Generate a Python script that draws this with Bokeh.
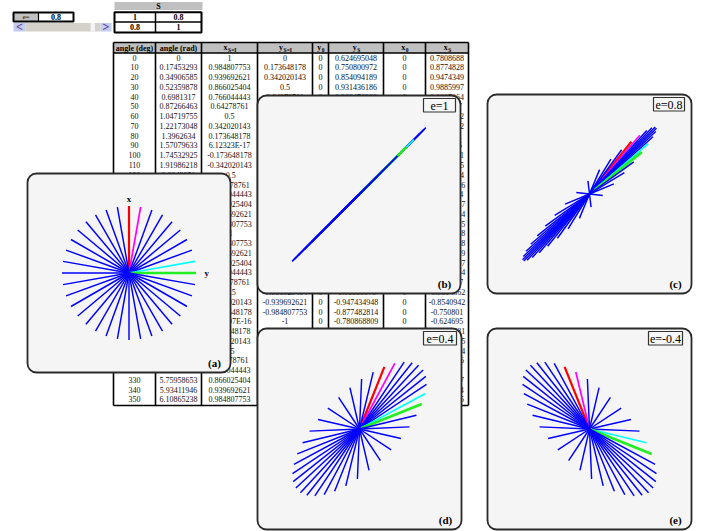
from bokeh.plotting import figure
from bokeh.models import Range1d, ColumnDataSource
from bokeh.embed import file_html
from bokeh.resources import INLINE
from bokeh.core.properties import value

# ---------------- data ----------------
angle_deg = [str(a) for a in range(0, 360, 10)]
angle_rad = ["0", "0.17453293", "0.34906585", "0.52359878", "0.6981317", "0.87266463",
             "1.04719755", "1.22173048", "1.3962634", "1.57079633", "1.74532925", "1.91986218",
             "2.0943951", "2.26892803", "2.44346095", "2.61799388", "2.7925268", "2.96705973",
             "3.14159265", "3.31612558", "3.4906585", "3.66519143", "3.83972435", "4.01425728",
             "4.1887902", "4.36332313", "4.53785606", "4.71238898", "4.88692191", "5.06145483",
             "5.23598776", "5.41052068", "5.58505361", "5.75958653", "5.93411946", "6.10865238"]
x_SI = ["1", "0.984807753", "0.939692621", "0.866025404", "0.766044443", "0.64278761",
        "0.5", "0.342020143", "0.173648178", "6.12323E-17", "-0.173648178", "-0.342020143",
        "-0.5", "-0.64278761", "-0.766044443", "-0.866025404", "-0.939692621", "-0.984807753",
        "-1", "-0.984807753", "-0.939692621", "-0.866025404", "-0.766044443", "-0.64278761",
        "-0.5", "-0.342020143", "-0.173648178", "-1.83697E-16", "0.173648178", "0.342020143",
        "0.5", "0.64278761", "0.766044443", "0.866025404", "0.939692621", "0.984807753"]
y_SI = ["0", "0.173648178", "0.342020143", "0.5", "0.64278761", "0.766044443",
        "0.866025404", "0.939692621", "0.984807753", "1", "0.984807753", "0.939692621",
        "0.866025404", "0.766044443", "0.64278761", "0.5", "0.342020143", "0.173648178",
        "1.22515E-16", "-0.173648178", "-0.342020143", "-0.5", "-0.64278761", "-0.766044443",
        "-0.866025404", "-0.939692621", "-0.984807753", "-1", "-0.984807753", "-0.939692621",
        "-0.866025404", "-0.766044443", "-0.64278761", "-0.5", "-0.342020143", "-0.173648178"]
y_0 = ["0"] * 36
x_0 = ["0"] * 36
y_S = ["0.624695048", "0.750800972", "0.854094189", "0.931436186", "0.980476966", "0.999726447",
       "0.98859975", "0.947434948", "0.877482814", "0.780868809", "0.660528499", "0.520118368",
       "0.363904702", "0.196633976", "0.023388626", "-0.150567376", "-0.319948466", "-0.479608081",
       "-0.624695048", "-0.750800972", "-0.854094189", "-0.931436186", "-0.980476966", "-0.999726447",
       "-0.98859975", "-0.947434948", "-0.877482814", "-0.780868809", "-0.660528499", "-0.520118368",
       "-0.363904702", "-0.196633976", "-0.023388626", "0.150567376", "0.319948466", "0.479608081"]
x_S = ["0.7808688", "0.8774828", "0.9474349", "0.9885997", "0.9997264", "0.980477",
       "0.9314362", "0.8540942", "0.750801", "0.624695", "0.4796081", "0.3199485",
       "0.1505674", "-0.0233886", "-0.196634", "-0.3639047", "-0.5201184", "-0.6605285",
       "-0.7808688", "-0.8774828", "-0.9474349", "-0.9885997", "-0.9997264", "-0.980477",
       "-0.9314362", "-0.8540942", "-0.750801", "-0.624695", "-0.4796081", "-0.3199485",
       "-0.1505674", "0.0233886", "0.196634", "0.3639047", "0.5201184", "0.6605285"]

e_value = "0.8"
S_matrix = [["1", "0.8"], ["0.8", "1"]]
panel_e = {"a": 0.0, "b": 1.0, "c": 0.8, "d": 0.4, "e": -0.4}
panel_label = {"b": "e=1", "c": "e=0.8", "d": "e=0.4", "e": "e=-0.4"}
highlight = {"0": "#ff0000", "10": "#ff00ff", "80": "#00ffff", "90": "#22ee22"}
highlight_w = {"0": 2.2, "10": 1.7, "80": 1.7, "90": 2.7}

# ---------------- figure ----------------
W, H = 707, 531
p = figure(frame_width=W, frame_height=H, x_range=Range1d(0, W), y_range=Range1d(H, 0),
           output_backend="svg", toolbar_location=None, min_border=0,
           x_axis_location=None, y_axis_location=None, title=None)
p.grid.visible = False
p.outline_line_color = None
p.background_fill_color = "white"
p.border_fill_color = "white"

SERIF = value("Liberation Serif")


def tx(xs, ys, texts, size="8px", bold=False, align="center", color="black",
       baseline="middle", rng=None):
    kw = {}
    if rng:
        kw = dict(x_range_name=rng[0], y_range_name=rng[1])
    src = ColumnDataSource(dict(x=xs, y=ys, text=texts))
    p.text(x="x", y="y", text="text", source=src, text_font=SERIF, text_font_size=size,
           text_font_style="bold" if bold else "normal", text_align=align,
           text_baseline=baseline, text_color=color, **kw)


def box(l, r, t, b, fill, line="black", lw=1.5, radius=0):
    kw = {}
    if radius:
        kw["border_radius"] = radius
    p.quad(left=[l], right=[r], top=[t], bottom=[b], fill_color=fill,
           line_color=line if lw else None, line_width=lw, **kw)


# ---------- top left controls ----------
box(13, 38, 12, 21, "#c0c0c0", lw=0)
box(13, 73, 12, 21, None, lw=2)
p.segment(x0=[38], y0=[12], x1=[38], y1=[21], line_color="black", line_width=1.2)
tx([25.5], [16.7], ["e="], size="7px")
tx([55.5], [16.7], [e_value], size="8px", bold=True)
# scrollbar
box(13, 25, 22.5, 31, "#c3cbee", lw=0)
box(25, 100, 22.5, 31, "#d4d1cb", lw=0)
box(90, 94.5, 22.5, 31, "#f4f4f4", lw=0)
box(100, 111, 22.5, 31, "#c3cbee", lw=0)
tx([19], [26.8], ["<"], size="12px", bold=True, color="#55308a")
tx([105.5], [26.8], [">"], size="12px", bold=True, color="#55308a")

# ---------- S matrix ----------
box(114, 202, 1.5, 9.5, "#c0c0c0", lw=0)
tx([158], [5.7], ["S"], size="8px", bold=True)
box(114, 201, 11.7, 32, None, lw=2)
p.segment(x0=[155, 114], y0=[11.7, 21.5], x1=[155, 201], y1=[32, 21.5],
          line_color="black", line_width=1.5)
tx([134.5, 178, 134.5, 178], [16.8, 16.8, 26.9, 26.9],
   [S_matrix[0][0], S_matrix[0][1], S_matrix[1][0], S_matrix[1][1]], size="8px", bold=True)

# ---------- data table ----------
col_edges = [113, 155, 201, 257, 312, 328, 383, 425, 468]
col_c = [(col_edges[i] + col_edges[i + 1]) / 2 for i in range(8)]
row_y = [57 + i * 9.77 for i in range(36)]
box(113, 468, 42, 52.5, "#c0c0c0", lw=0)
columns = [angle_deg, angle_rad, x_SI, y_SI, y_0, y_S, x_0, x_S]
for j, col in enumerate(columns):
    tx([col_c[j]] * 36, row_y, col, size="8px", color="#111111")
heads = [("angle (deg)", ""), ("angle (rad)", ""), ("x", "S=I"), ("y", "S=I"),
         ("y", "0"), ("y", "S"), ("x", "0"), ("x", "S")]
for j, (main, sub) in enumerate(heads):
    if sub:
        sw = 2.6 * len(sub)
        tx([col_c[j] - sw / 2], [47.2], [main], size="8px", bold=True)
        tx([col_c[j] - sw / 2 + 2.5], [49.3], [sub], size="5.5px", bold=True, align="left")
    else:
        tx([col_c[j]], [47.5], [main], size="8px", bold=True)
p.segment(x0=col_edges, y0=[42] * 9, x1=col_edges, y1=[405] * 9, line_color="black", line_width=1.6)
p.segment(x0=[113] * 3, y0=[42, 52.5, 405], x1=[468] * 3, y1=[42, 52.5, 405],
          line_color="black", line_width=1.6)

# ---------- chart panels ----------
K = 67.0  # px per unit
panels = {"a": (27, 230, 173, 372), "b": (257, 460, 95, 293), "c": (487, 691, 94, 293),
          "d": (257, 461, 328, 529), "e": (487, 691, 328, 529)}
label_box = {"b": (423, 455), "c": (653, 684), "d": (423, 456), "e": (648, 682)}

base_x = [float(v) for v in x_SI]
base_y = [float(v) for v in y_SI]
colors = [highlight.get(a, "#0000ff") for a in angle_deg]
widths = [highlight_w.get(a, 1.45) for a in angle_deg]

for name, (l, r, t, b) in panels.items():
    cx, cy = (l + r) / 2, (t + b) / 2
    hn, vn = "h_" + name, "v_" + name
    p.extra_x_ranges[hn] = Range1d((0 - cx) / K, (W - cx) / K)
    p.extra_y_ranges[vn] = Range1d((cy - H) / K, (cy - 0) / K)
    box(l, r, t, b, "#f5f5f5", line="#2a2a2a", lw=1.8, radius=9)

    e = panel_e[name]
    if name == "c":
        xs = [float(v) for v in x_S]
        ys = [float(v) for v in y_S]
    else:
        n = (1 + e * e) ** 0.5
        xs = [(bx + e * by) / n for bx, by in zip(base_x, base_y)]
        ys = [(e * bx + by) / n for bx, by in zip(base_x, base_y)]
    src = ColumnDataSource(dict(x0=[float(v) for v in x_0], y0=[float(v) for v in y_0],
                                x=xs, y=ys, color=colors, w=widths))
    # horizontal axis shows y, vertical axis shows x
    p.segment(x0="y0", y0="x0", x1="y", y1="x", source=src, line_color="color",
              line_width="w", x_range_name=hn, y_range_name=vn)

    if name in panel_label:
        bl, br = label_box[name]
        box(bl, br, t + 3, t + 16.5, "#f7f7f7", line="#333333", lw=1.2)
        tx([(bl + br) / 2], [t + 10], [panel_label[name]], size="12px")
    tx([r - 16], [b - 9.5], ["(" + name + ")"], size="11px", bold=True)

# axis labels of panel (a)
tx([0.0, 1.16], [1.11, 0.0], ["x", "y"], size="9px", bold=True, rng=("h_a", "v_a"))

open("out.html", "w").write(file_html(p, INLINE))
